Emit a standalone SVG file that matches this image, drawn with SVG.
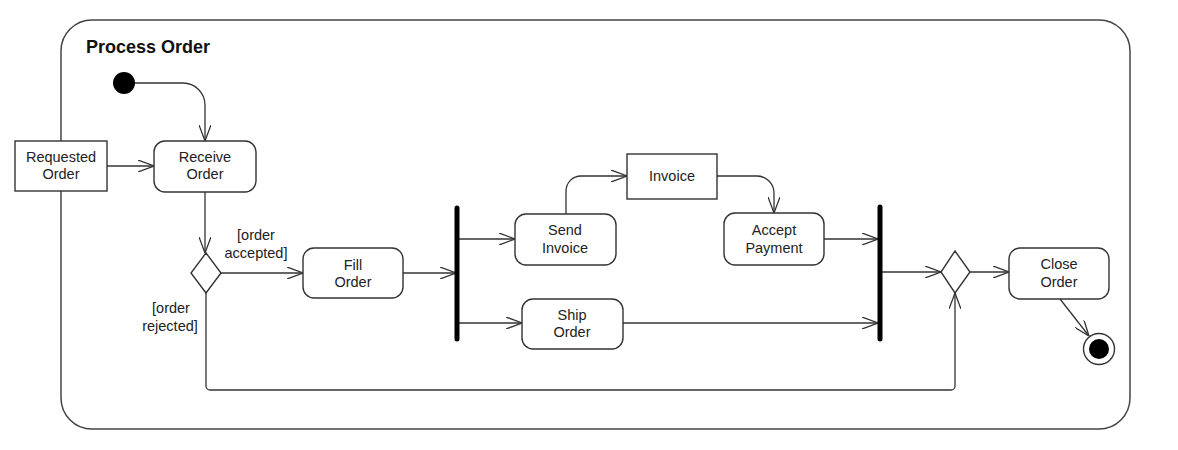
<svg xmlns="http://www.w3.org/2000/svg" width="1178" height="450" viewBox="0 0 1178 450">
<style>
.t{font-family:"Liberation Sans",Arial,sans-serif;font-size:14.5px;fill:#222;text-anchor:middle;dominant-baseline:central}
.box{fill:#fff;stroke:#333;stroke-width:1.4}
.c{fill:none;stroke:#333;stroke-width:1.3}
.bar{stroke:#000;stroke-width:5;stroke-linecap:round}
</style>
<defs>
<marker id="arr" viewBox="0 0 16 12" markerWidth="16" markerHeight="12" refX="16" refY="6" orient="auto" markerUnits="userSpaceOnUse">
<path d="M0,0 L16,6 L0,12" fill="none" stroke="#333" stroke-width="1.3"/>
</marker>
</defs>
<rect width="1178" height="450" fill="#fff"/>
<g id="container">
<rect x="61" y="20" width="1069" height="409" rx="31" ry="31" fill="none" stroke="#444" stroke-width="1.5"/>
<text x="86" y="53" font-family="'Liberation Sans',Arial,sans-serif" font-size="18" font-weight="bold" fill="#111">Process Order</text>
</g>
<g id="connectors">
<path class="c" d="M135,83 H183 A22,22 0 0 1 205,105 V141" marker-end="url(#arr)"/>
<path class="c" d="M107,166 H154" marker-end="url(#arr)"/>
<path class="c" d="M205,192 V253" marker-end="url(#arr)"/>
<path class="c" d="M221,273 H303" marker-end="url(#arr)"/>
<path class="c" d="M206,293 V386 A4,4 0 0 0 210,390 H951 A4,4 0 0 0 955,386 V293" marker-end="url(#arr)"/>
<path class="c" d="M403,273 H456" marker-end="url(#arr)"/>
<path class="c" d="M459,239 H515" marker-end="url(#arr)"/>
<path class="c" d="M459,323 H522" marker-end="url(#arr)"/>
<path class="c" d="M566,214 V191 A15,15 0 0 1 581,176 H627" marker-end="url(#arr)"/>
<path class="c" d="M717,176 H757 A17,17 0 0 1 774,193 V213" marker-end="url(#arr)"/>
<path class="c" d="M824,239 H878" marker-end="url(#arr)"/>
<path class="c" d="M623,323 H878" marker-end="url(#arr)"/>
<path class="c" d="M882,272 H941" marker-end="url(#arr)"/>
<path class="c" d="M970,272 H1009" marker-end="url(#arr)"/>
<path class="c" d="M1060,299 L1089,336" marker-end="url(#arr)"/>
</g>
<g id="initial"><circle cx="124" cy="83" r="11" fill="#000"/></g>
<g id="requested-order">
<rect class="box" x="15" y="141" width="92" height="50"/>
<text class="t" x="61" y="157">Requested</text>
<text class="t" x="61" y="174">Order</text>
</g>
<g id="receive-order">
<rect class="box" x="154" y="141" width="102" height="51" rx="11"/>
<text class="t" x="205" y="157">Receive</text>
<text class="t" x="205" y="174">Order</text>
</g>
<g id="decision1">
<polygon class="box" points="206,253 221,273 206,293 191,273"/>
<text class="t" x="256" y="235">[order</text>
<text class="t" x="256" y="253">accepted]</text>
<text class="t" x="171" y="308">[order</text>
<text class="t" x="170" y="326">rejected]</text>
</g>
<g id="fill-order">
<rect class="box" x="303" y="248" width="100" height="50" rx="11"/>
<text class="t" x="353" y="265">Fill</text>
<text class="t" x="353" y="282">Order</text>
</g>
<g id="fork"><line class="bar" x1="457" y1="208" x2="457" y2="339"/></g>
<g id="send-invoice">
<rect class="box" x="515" y="214" width="101" height="51" rx="11"/>
<text class="t" x="565" y="230">Send</text>
<text class="t" x="565" y="248">Invoice</text>
</g>
<g id="ship-order">
<rect class="box" x="522" y="299" width="101" height="50" rx="11"/>
<text class="t" x="572" y="315">Ship</text>
<text class="t" x="572" y="332">Order</text>
</g>
<g id="invoice">
<rect class="box" x="627" y="154" width="90" height="45"/>
<text class="t" x="672" y="176">Invoice</text>
</g>
<g id="accept-payment">
<rect class="box" x="724" y="213" width="100" height="52" rx="11"/>
<text class="t" x="774" y="230">Accept</text>
<text class="t" x="774" y="248">Payment</text>
</g>
<g id="join"><line class="bar" x1="880" y1="207" x2="880" y2="339"/></g>
<g id="decision2"><polygon class="box" points="955,251 970,272 955,293 941,272"/></g>
<g id="close-order">
<rect class="box" x="1009" y="248" width="100" height="51" rx="11"/>
<text class="t" x="1059" y="264">Close</text>
<text class="t" x="1059" y="282">Order</text>
</g>
<g id="final">
<circle cx="1099" cy="349" r="15.5" fill="#fff" stroke="#333" stroke-width="1.4"/>
<circle cx="1099" cy="349" r="10" fill="#000"/>
</g>
</svg>
